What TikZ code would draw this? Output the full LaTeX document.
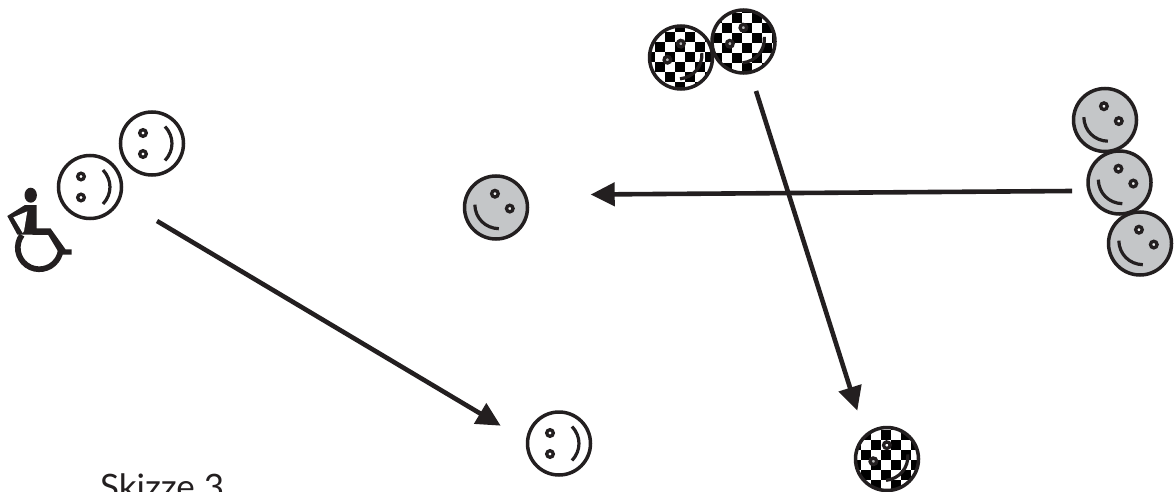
\documentclass[tikz,border=0pt]{standalone}
\usepackage{fontspec}
\setmainfont{Lato}
\usetikzlibrary{arrows.meta}
\definecolor{ink}{HTML}{231F20}
\definecolor{graysm}{HTML}{C4C6C8}
\tikzset{
  x=1pt,y=-1pt,
  outline/.style={draw=ink,line width=3.5pt},
  mouthline/.style={draw=ink,line width=3.2pt},
  arrowline/.style={draw=ink,line width=4.6pt,-{Triangle[length=24pt,width=23pt,fill=ink]}},
  eyeball/.style={draw=ink,line width=3.3pt,fill=white,fill opacity=0.7},
}
\newcommand{\facemarks}{%
  \draw[mouthline] (13,-17) .. controls (22.3,-7) and (22.3,7) .. (13,17);
  \draw[eyeball] (-9,-10.5) circle (3.3pt);
  \draw[eyeball] (-9,10.5) circle (3.3pt);}
\newcommand{\smiley}[5]{%
  \begin{scope}[shift={(#2,#3)},rotate=-#4]
    \node[circle,minimum size=63pt,inner sep=0pt,outline,fill=#5] (#1) at (0,0) {};
    \facemarks
  \end{scope}}
% #5,#6: top-left corner of a black square of the pattern, outside the disc
\newcommand{\checkface}[6]{%
  \begin{scope}
    \clip (#2,#3) circle (31.5pt);
    \fill[white] (#2,#3) circle (31.5pt);
    \foreach \i in {0,...,8}{\foreach \j in {0,...,8}{%
      \pgfmathtruncatemacro{\odd}{mod(\i+\j,2)}%
      \ifnum\odd=0
        \fill[black] ({#5+\i*10},{#6+\j*10}) rectangle ++(10,10);
      \fi}}
  \end{scope}
  \begin{scope}[shift={(#2,#3)},rotate=-#4]
    \node[circle,minimum size=63pt,inner sep=0pt,outline] (#1) at (0,0) {};
    \facemarks
  \end{scope}}
\begin{document}
\begin{tikzpicture}
\useasboundingbox (0,0) rectangle (1174,492);
\fill[white] (0,0) rectangle (1174,492);
% white faces
\smiley{wa}{152}{143.5}{0}{white}
\smiley{wb}{90}{187}{0}{white}
\smiley{wc}{559}{443.5}{0}{white}
% gray faces
\smiley{ga}{496}{207.5}{135}{graysm}
\smiley{gb}{1105}{120}{135}{graysm}
\smiley{gc}{1119.5}{182.5}{135}{graysm}
\smiley{gd}{1140}{243.5}{135}{graysm}
% checker faces
\checkface{ca}{681}{57.5}{40}{644.7}{11.7}
\checkface{cb}{743.5}{41.5}{40}{702}{3.3}
\checkface{cc}{887}{459}{40}{841.3}{410}
% wheelchair
\fill[ink] (30.7,195.2) ellipse (6.2pt and 7.5pt);
\fill[ink] (25,205) -- (36.7,205) -- (36.7,228.3) -- (50.5,228.3) -- (65.5,249.3) -- (71.7,249.3) -- (71.7,254.5) -- (60,254.5) -- (48.3,235) -- (17.3,234.5) -- (7.3,216) -- cycle;
\fill[white] (13.3,217.3) -- (27.3,211.3) -- (24,231) -- (22.7,233) -- cycle;
\draw[ink,line width=5.7pt] (21.9,235.1) arc[start angle=144,end angle=360,radius=21.5pt];
% arrows
\coordinate (a1s) at (157,221); \coordinate (a1e) at (500.7,425.7);
\coordinate (a2s) at (1072,191); \coordinate (a2e) at (590.7,194.5);
\coordinate (a3s) at (756,91); \coordinate (a3e) at (857.3,410.7);
\draw[arrowline] (a1s) -- (a1e);
\draw[arrowline] (a2s) -- (a2e);
\draw[arrowline] (a3s) -- (a3e);
\node[anchor=base west,inner sep=0pt,font=\fontsize{35}{35}\selectfont,text=ink] (cap) at (100,499) {Skizze 3};
\end{tikzpicture}
\end{document}
